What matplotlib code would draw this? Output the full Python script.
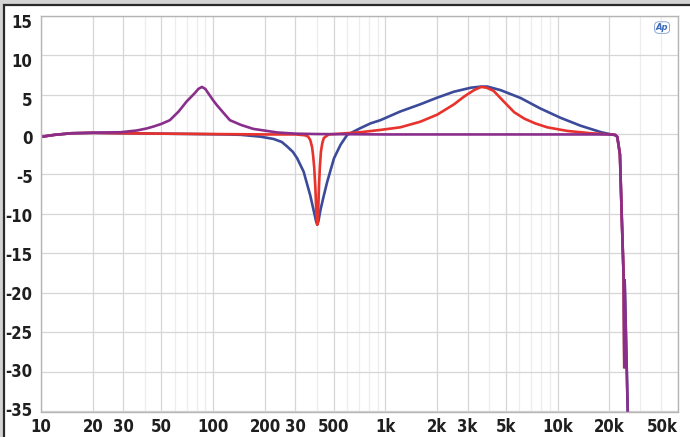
import matplotlib
matplotlib.use("Agg")
import matplotlib.pyplot as plt
from matplotlib import font_manager as fm
from matplotlib.patches import Rectangle
from matplotlib.ticker import FixedLocator, NullFormatter
from matplotlib.transforms import ScaledTranslation

# bass peak response (purple)
purple_f = [10, 12, 15, 20, 29, 36, 41, 45, 50, 56, 63, 70, 78, 82, 86, 90, 95, 100, 105,
            115, 125, 145, 171, 235, 300, 400, 1000, 5000, 20000, 21600, 22200, 23000,
            23600, 24200, 24400, 24500, 25600]
purple_db = [-0.3, -0.05, 0.15, 0.22, 0.28, 0.5, 0.75, 1.0, 1.33, 1.8, 2.9, 4.15, 5.2, 5.75,
             6.0, 5.75, 5.0, 4.3, 3.7, 2.7, 1.8, 1.2, 0.7, 0.25, 0.1, 0.05, 0.0, 0.0, 0.0,
             -0.05, -0.3, -2.5, -10.8, -18.4, -29.4, -18.4, -36.0]

# wide notch + wide presence boost (blue)
blue_f = [10, 12, 15, 20, 30, 50, 80, 120, 145, 188, 224, 250, 268, 290, 307, 335, 366,
          383, 396, 402, 408, 419, 439, 459, 503, 549, 600, 716, 820, 935, 1220, 1590,
          2000, 2500, 3130, 3600, 3900, 4660, 6100, 7900, 10400, 13600, 17900, 20500,
          21600, 22200, 23000, 23600, 24200, 24400, 24500, 25600]
blue_db = [-0.3, -0.05, 0.15, 0.2, 0.15, 0.1, 0.05, 0.0, -0.05, -0.28, -0.57, -0.95, -1.5,
           -2.2, -3.0, -4.7, -7.7, -9.6, -11.0, -11.4, -11.0, -9.6, -7.7, -6.0, -3.0, -1.3,
           -0.05, 0.8, 1.4, 1.8, 2.9, 3.8, 4.65, 5.4, 5.9, 6.05, 6.05, 5.6, 4.6, 3.3, 2.1,
           1.1, 0.28, 0.0, -0.1, -0.3, -2.5, -10.8, -18.4, -29.4, -18.4, -36.0]

# narrow notch + narrower presence boost (red)
red_f = [10, 12, 15, 20, 30, 50, 100, 200, 300, 340, 355, 366, 375, 380, 386, 392, 397,
         402, 407, 411, 416, 422, 430, 439, 468, 550, 716, 935, 1220, 1590, 2000, 2500,
         2870, 3270, 3600, 3870, 4250, 4870, 5600, 6400, 7400, 8700, 11400, 15600, 20500,
         21600, 22200, 23000, 23600, 24200, 24350]
red_db = [-0.3, -0.05, 0.15, 0.2, 0.15, 0.1, 0.05, 0.0, 0.0, -0.1, -0.25, -0.7, -1.6, -2.6,
          -4.2, -6.8, -9.8, -11.4, -9.8, -6.8, -4.2, -2.2, -1.1, -0.45, 0.0, 0.1, 0.28, 0.57,
          0.9, 1.6, 2.5, 3.8, 4.8, 5.6, 6.0, 5.9, 5.5, 4.15, 2.8, 2.0, 1.4, 0.9, 0.44, 0.15,
          0.0, -0.05, -0.3, -2.5, -10.8, -18.4, -29.4]

xticks = [10, 20, 30, 50, 100, 200, 300, 500, 1000, 2000, 3000, 5000, 10000, 20000, 50000]
xlabels = ["10", "20", "30", "50", "100", "200", "30", "500", "1k", "2k", "3k", "5k",
           "10k", "20k", "50k"]
xminor = [40, 60, 70, 80, 90, 400, 600, 700, 800, 900, 4000, 6000, 7000, 8000, 9000,
          30000, 40000]
yticks = [15, 10, 5, 0, -5, -10, -15, -20, -25, -30, -35]


# pick a condensed, fairly heavy upright face for the tick labels if one is around
def _wnum(w):
    return w if isinstance(w, int) else fm.weight_dict.get(w, 400)


def _rank(f):
    name = f.name + " " + f.fname
    if "Extra" in name or "Ultra" in name:
        s = 3
    elif f.stretch == "condensed" or "Narrow" in name or ("Condensed" in name and "Semi" not in name):
        s = 0
    elif f.stretch == "semi-condensed" or "SemiCondensed" in name:
        s = 1
    else:
        s = 2
    return (s, abs(_wnum(f.weight) - 650))


narrow = [f for f in fm.fontManager.ttflist
          if f.style == "normal" and ("Narrow" in f.name or "Condensed" in f.fname
                                      or f.stretch in ("condensed", "semi-condensed"))]
if narrow:
    tick_font = fm.FontProperties(fname=sorted(narrow, key=_rank)[0].fname, size=12)
else:
    tick_font = fm.FontProperties(family="Liberation Sans", weight="bold", size=11)

W, H = 690, 437
fig = plt.figure(figsize=(W / 100, H / 100), dpi=100)
fig.patch.set_facecolor("#d4d4d4")
# page frame: white panel with dark border on top and left
fig.patches.append(Rectangle((4 / W, -0.1), 1.2, (H - 5) / H + 0.1, transform=fig.transFigure,
                             facecolor="white", edgecolor="#2a2a2a", lw=1.6, zorder=-5))

ax = fig.add_axes([41 / W, (H - 411.5) / H, 637 / W, 395.8 / H])
ax.set_zorder(2)
ax.set_facecolor("white")
ax.set_xscale("log")
ax.set_xlim(10, 50000)
ax.set_ylim(-35, 15)

ax.xaxis.set_major_locator(FixedLocator(xticks))
ax.xaxis.set_minor_locator(FixedLocator(xminor))
ax.xaxis.set_minor_formatter(NullFormatter())
ax.set_xticks(xticks)
ax.set_xticklabels(xlabels)
ax.set_yticks(yticks)
ax.set_yticklabels([str(v) for v in yticks])

ax.grid(True, which="major", color="#d6d6d6", lw=0.9)
ax.grid(True, which="minor", axis="x", color="#ededed", lw=0.9)
ax.set_axisbelow(True)
for s in ax.spines.values():
    s.set_color("#b5b5b5")
    s.set_linewidth(1.0)

ax.tick_params(which="both", length=0, colors="#1e1e1e")
ax.tick_params(axis="x", pad=5)
ax.tick_params(axis="y", pad=6)
for lab in ax.get_xticklabels() + ax.get_yticklabels():
    lab.set_fontproperties(tick_font)
ax.get_xticklabels()[-1].set_horizontalalignment("right")

# y labels sit on a slightly tighter pitch than the grid
for v, lab in zip(yticks, ax.get_yticklabels()):
    dy = -(3 + 0.15 * v) / 100
    lab.set_transform(lab.get_transform() + ScaledTranslation(0, dy, fig.dpi_scale_trans))

ax.plot(blue_f, blue_db, color="#3c4a9a", lw=1.9, solid_joinstyle="round")
ax.plot(red_f, red_db, color="#e8322c", lw=1.9, solid_joinstyle="round")
ax.plot(purple_f, purple_db, color="#8a2e8c", lw=1.9, solid_joinstyle="round")

ax.text(0.975, 0.97, "Ap", transform=ax.transAxes, ha="center", va="center",
        fontsize=6, style="italic", weight="bold", color="#3a6ab8",
        bbox=dict(boxstyle="round,pad=0.15,rounding_size=0.5", fc="none", ec="#7a9ad0", lw=0.6))

fig.savefig("out.png", dpi=100, facecolor=fig.get_facecolor())
